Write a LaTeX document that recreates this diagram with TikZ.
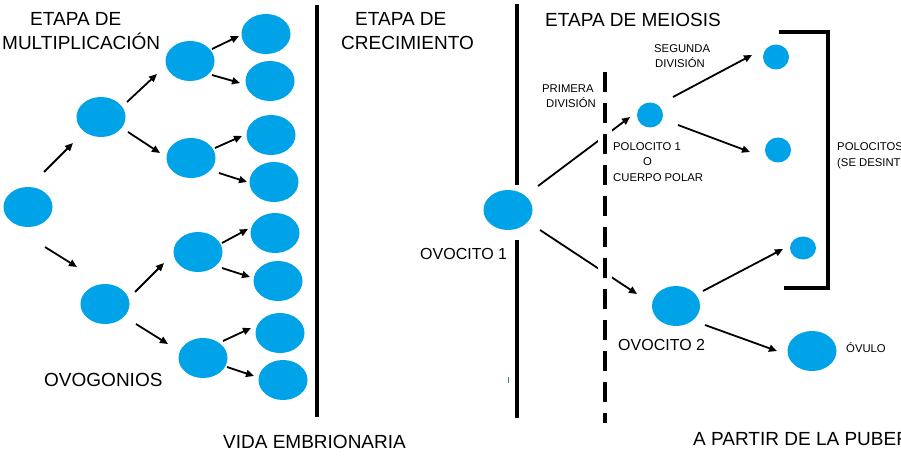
\documentclass[tikz,border=0pt]{standalone}
\usepackage{fontspec}
\setmainfont{Liberation Sans}
\usetikzlibrary{shapes.geometric,arrows.meta,calc}
\definecolor{cellblue}{RGB}{0,162,232}
\definecolor{strayteal}{RGB}{40,130,140}
\begin{document}
\begin{tikzpicture}[x=1pt,y=-1pt,
  bigcell/.style={ellipse, fill=cellblue, draw=none, inner sep=0pt, minimum width=49pt, minimum height=40pt},
  smallcell/.style={ellipse, fill=cellblue, draw=none, inner sep=0pt, minimum width=26pt, minimum height=25pt},
  arr/.style={-{Triangle[length=8pt,width=7pt]}, line width=1.8pt},
  plain/.style={line width=1.8pt},
  wall/.style={line width=3.6pt},
  bigtxt/.style={anchor=base west, inner sep=0pt, font=\fontsize{19}{22}\selectfont},
  midtxt/.style={anchor=base west, inner sep=0pt, font=\fontsize{16}{19}\selectfont},
  smalltxt/.style={anchor=base west, inner sep=0pt, font=\fontsize{11.3}{13}\selectfont}]
\useasboundingbox (0,0) rectangle (901,473);
\fill[white] (0,0) rectangle (901,473);

% ---------- left tree ----------
\node[bigcell] (root) at (28,207) {};
\node[bigcell] (A) at (101,117) {};
\node[bigcell] (B) at (105,304) {};
\node[bigcell] (AA) at (190,61) {};
\node[bigcell] (AB) at (191,158) {};
\node[bigcell] (BA) at (198,252) {};
\node[bigcell] (BB) at (203,358) {};
\node[bigcell] (c1) at (266,34) {};
\node[bigcell] (c2) at (270,81) {};
\node[bigcell] (c3) at (271,135) {};
\node[bigcell] (c4) at (274,182) {};
\node[bigcell] (c5) at (275,233) {};
\node[bigcell] (c6) at (278,281) {};
\node[bigcell] (c7) at (280,333) {};
\node[bigcell] (c8) at (283,380) {};

\draw[arr] ($(root)+(16,-35)$) -- ($(A)+(-28,26)$);
\draw[arr] ($(root)+(17,40)$) -- ($(B)+(-28,-37)$);
\draw[arr] ($(A)+(26,-15)$) -- ($(AA)+(-33,13)$);
\draw[arr] ($(A)+(27,15)$) -- ($(AB)+(-31,-5)$);
\draw[arr] ($(B)+(30,-12)$) -- ($(BA)+(-34,11)$);
\draw[arr] ($(B)+(31,20)$) -- ($(BB)+(-35,-14)$);
\draw[arr] ($(AA)+(22,-12)$) -- ($(c1)+(-27,2)$);
\draw[arr] ($(AA)+(22,14)$) -- ($(c2)+(-30,2)$);
\draw[arr] ($(AB)+(24,-10)$) -- ($(c3)+(-29,1)$);
\draw[arr] ($(AB)+(28,15)$) -- ($(c4)+(-27,0)$);
\draw[arr] ($(BA)+(24,-9)$) -- ($(c5)+(-27,-4)$);
\draw[arr] ($(BA)+(24,16)$) -- ($(c6)+(-28,-4)$);
\draw[arr] ($(BB)+(20,-17)$) -- ($(c7)+(-29,-5)$);
\draw[arr] ($(BB)+(24,9)$) -- ($(c8)+(-29,-4)$);

% ---------- separators ----------
\coordinate (w1t) at (317,5);
\coordinate (w1b) at (317,417);
\draw[wall] (w1t) -- (w1b);

% ---------- right part ----------
\node[bigcell] (ov1) at (508,210) {};
\node[smallcell] (pol1) at (650,115) {};
\node[smallcell] (s1) at (776,57) {};
\node[smallcell] (s2) at (778,150) {};
\node[smallcell, minimum height=23pt] (s3) at (803,248) {};
\node[bigcell, minimum width=48pt] (ov2) at (676,306) {};
\node[bigcell] (ovulo) at (812,351) {};

\coordinate (w2t) at (517,4);
\coordinate (w2m) at (517,185);
\coordinate (w2n) at (517,240);
\coordinate (w2b) at (517,418);
\draw[wall] (w2t) -- (w2m);
\draw[wall] (w2n) -- (w2b);

\draw[arr] ($(ov1)+(30,-24)$) -- ($(pol1)+(-20,2)$);
\draw[arr] ($(ov1)+(32,20)$) -- ($(ov2)+(-39,-12)$);
\draw[arr] ($(pol1)+(23,-18)$) -- ($(s1)+(-24,-2)$);
\draw[arr] ($(pol1)+(28,10)$) -- ($(s2)+(-28,2)$);
\draw[arr] ($(ov2)+(27,-15)$) -- ($(s3)+(-20,1)$);
\draw[arr] ($(ov2)+(29,19)$) -- ($(ovulo)+(-35,0)$);

% dashed division line (interrupts the arrows it crosses)
\coordinate (dt) at (605,72);
\coordinate (db) at (605,423);
\draw[line width=14pt, white] (dt) -- (db);
\draw[line width=4pt, dash pattern=on 20pt off 11pt] (dt) -- (db);

% bracket round the polocitos
\coordinate (br1) at (779,32);
\coordinate (br2) at (828,32);
\coordinate (br3) at (828,288);
\coordinate (br4) at (784,288);
\draw[wall] (br1) -- (br2) -- (br3) -- (br4);

% stray mark
\coordinate (st1) at (508,377);
\coordinate (st2) at (508,383);
\draw[strayteal, line width=0.8pt] (st1) -- (st2);

% ---------- texts ----------
\node[bigtxt] (tA) at (30,26) {ETAPA DE};
\node[bigtxt] (tB) at (2,50) {MULTIPLICACIÓN};
\node[bigtxt] (tC) at (355,26) {ETAPA DE};
\node[bigtxt] (tD) at (341,50) {CRECIMIENTO};
\node[bigtxt] (tE) at (545,27) {ETAPA DE MEIOSIS};
\node[bigtxt] (tF) at (44,386) {OVOGONIOS};
\node[bigtxt] (tG) at (223,448) {VIDA EMBRIONARIA};
\node[bigtxt] (tH) at (693,445) {A PARTIR DE LA PUBERTAD};
\node[midtxt] (tI) at (420,259) {OVOCITO 1};
\node[midtxt] (tJ) at (618,350) {OVOCITO 2};
\node[smalltxt] (tK) at (542,93) {PRIMERA};
\node[smalltxt] (tL) at (546,108) {DIVISIÓN};
\node[smalltxt] (tM) at (654,53) {SEGUNDA};
\node[smalltxt] (tN) at (655,68) {DIVISIÓN};
\node[smalltxt] (tO) at (613,150) {POLOCITO 1};
\node[smalltxt] (tP) at (643,165) {O};
\node[smalltxt] (tQ) at (613,182) {CUERPO POLAR};
\node[smalltxt] (tR) at (837,150) {POLOCITOS};
\node[smalltxt] (tS) at (837,167) {(SE DESINTEGRAN)};
\node[smalltxt] (tT) at (846,352) {ÓVULO};
\end{tikzpicture}
\end{document}
